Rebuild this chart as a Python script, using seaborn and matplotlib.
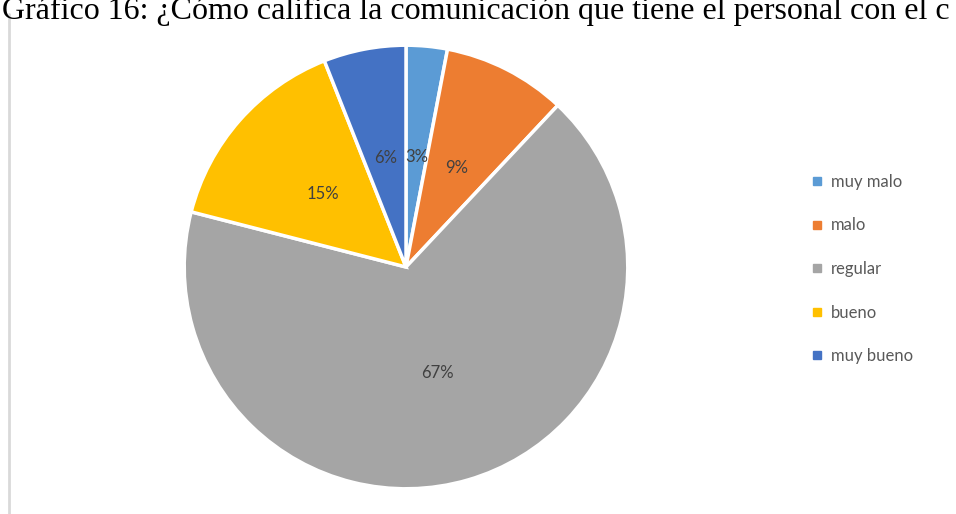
import matplotlib
matplotlib.use('Agg')
import matplotlib.pyplot as plt
import matplotlib.lines as mlines
import seaborn as sns

# data
categories = ['muy malo', 'malo', 'regular', 'bueno', 'muy bueno']
shares = [3, 9, 67, 15, 6]
colors = ['#5B9BD5', '#ED7D31', '#A5A5A5', '#FFC000', '#4472C4']
title = 'Gráfico 16: ¿Cómo califica la comunicación que tiene el personal con el c'

sns.set_theme(style='white')
plt.rcParams['font.family'] = ['Lato', 'DejaVu Sans']

W, H = 956, 514
fig = plt.figure(figsize=(W / 100, H / 100), dpi=100)
fig.patch.set_facecolor('white')

# chart frame edge on the left
fig.add_artist(mlines.Line2D([9 / W, 9 / W], [0, 1 - 14 / H], color='#D9D9D9', lw=2))

# title sits right against the top edge, as in the screenshot
fig.text(2 / W, 1 - 19 / H, title, family='Liberation Serif', fontsize=23,
         color='black', ha='left', va='baseline')

r = 224
cx, cy = 406, H - 267
ax = fig.add_axes([(cx - r) / W, (cy - r) / H, 2 * r / W, 2 * r / H])
wedges, texts, autotexts = ax.pie(
    shares, colors=colors, startangle=90, counterclock=False,
    autopct='%1.0f%%', pctdistance=0.5,
    wedgeprops={'edgecolor': 'white', 'linewidth': 2.5},
    textprops={'color': '#404040', 'fontsize': 12})
ax.set_xlim(-1.01, 1.01)
ax.set_ylim(-1.01, 1.01)
ax.set_aspect('equal')
ax.axis('off')

handles = [mlines.Line2D([], [], marker='s', linestyle='none', markersize=6,
                         markerfacecolor=c, markeredgecolor=c) for c in colors]
fig.legend(handles, categories, loc='upper left',
           bbox_to_anchor=(794 / W, 1 - 159 / H), frameon=False,
           fontsize=12, labelcolor='#595959', handletextpad=0.3,
           labelspacing=1.65, handlelength=1.0)

plt.savefig('out.png', dpi=100)
plt.close()
